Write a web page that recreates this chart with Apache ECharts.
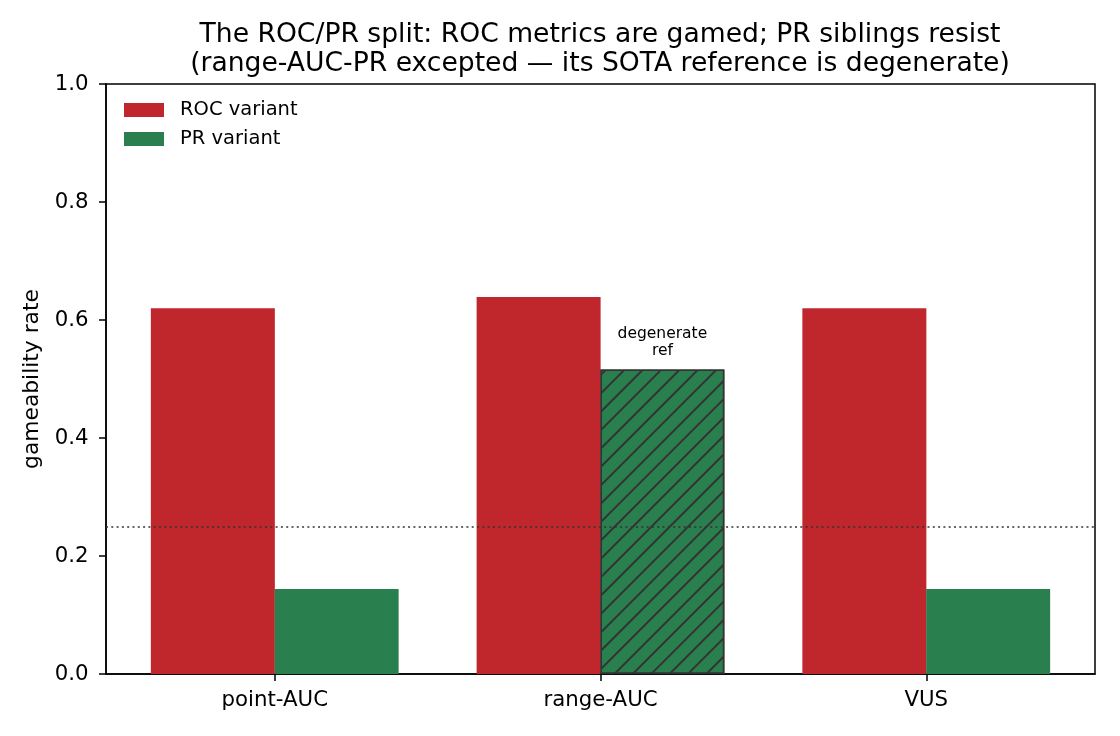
<!DOCTYPE html>
<html>
<head>
<meta charset="utf-8">
<script src="https://cdn.jsdelivr.net/npm/echarts@6/dist/echarts.min.js"></script>
<style>
  html, body { margin: 0; padding: 0; background: #fff; }
  #chart { width: 1120px; height: 736px; }
</style>
</head>
<body>
<div id="chart"></div>
<script>
var categories = ['point-AUC', 'range-AUC', 'VUS'];
var rocValues = [0.62, 0.639, 0.62];
var prValues = [0.144, 0.516, 0.144];
var chanceLevel = 0.25;
var degenerateIndex = 1;  // range-AUC-PR, hatched

var FONT = 'DejaVu Sans';
var RED = '#c0272d';
var GREEN = '#2a7f4f';
var BAR_OFFSET = 0.19;

var rocData = [];
var prData = [];
for (var i = 0; i < categories.length; i++) {
    rocData.push([i - BAR_OFFSET, rocValues[i]]);
    var item = {value: [i + BAR_OFFSET, prValues[i]]};
    if (i == degenerateIndex) {
        item.itemStyle = {
            borderColor: '#333',
            borderWidth: 1.5,
            decal: {
                symbol: 'rect',
                symbolSize: 1,
                color: '#333',
                dashArrayX: [1, 0],
                dashArrayY: [2, 11],
                rotation: -Math.PI / 4
            }
        };
        item.label = {
            show: true,
            position: 'top',
            distance: 10,
            formatter: 'degenerate\nref',
            fontFamily: FONT,
            fontSize: 15.5,
            lineHeight: 17,
            color: '#000'
        };
    }
    prData.push(item);
}

var myChart = echarts.init(document.getElementById('chart'), null, {renderer: 'canvas'});

myChart.setOption({
    animation: false,
    textStyle: {fontFamily: FONT},
    title: {
        text: 'The ROC/PR split: ROC metrics are gamed; PR siblings resist\n' +
            '(range-AUC-PR excepted \u2014 its SOTA reference is degenerate)',
        left: 600,
        top: 20,
        padding: 0,
        textAlign: 'center',
        textStyle: {
            fontFamily: FONT,
            fontSize: 26.6,
            fontWeight: 'normal',
            lineHeight: 29.5,
            color: '#000'
        }
    },
    legend: {
        orient: 'vertical',
        left: 124,
        top: 100,
        padding: 0,
        itemWidth: 40,
        itemHeight: 14,
        itemGap: 9,
        icon: 'rect',
        data: ['ROC variant', 'PR variant'],
        textStyle: {
            fontFamily: FONT,
            fontSize: 19.5,
            color: '#000',
            padding: [0, 0, 0, 11]
        }
    },
    grid: {
        left: 106,
        right: 25,
        top: 84,
        bottom: 62,
        show: true,
        borderColor: '#000',
        borderWidth: 1.5,
        containLabel: false
    },
    xAxis: {
        type: 'value',
        min: -0.518,
        max: 2.518,
        axisLine: {show: true, onZero: false, lineStyle: {color: '#000', width: 1.5}},
        axisTick: {
            show: true,
            customValues: [0, 1, 2],
            length: 7,
            lineStyle: {color: '#000', width: 1.5}
        },
        axisLabel: {
            customValues: [0, 1, 2],
            margin: 16,
            fontFamily: FONT,
            fontSize: 21.3,
            color: '#000',
            formatter: function(v) {
                return categories[Math.round(v)];
            }
        },
        splitLine: {show: false}
    },
    yAxis: {
        type: 'value',
        min: 0,
        max: 1,
        interval: 0.2,
        name: 'gameability rate',
        nameLocation: 'middle',
        nameGap: 51,
        nameTextStyle: {fontFamily: FONT, fontSize: 21.8, color: '#000'},
        axisLine: {show: true, onZero: false, lineStyle: {color: '#000', width: 1.5}},
        axisTick: {show: true, length: 7, lineStyle: {color: '#000', width: 1.5}},
        axisLabel: {
            margin: 17.5,
            fontFamily: FONT,
            fontSize: 21.3,
            color: '#000',
            formatter: function(v) {
                return v.toFixed(1);
            }
        },
        splitLine: {show: false}
    },
    series: [
        {
            name: 'ROC variant',
            type: 'bar',
            barWidth: 124,
            barGap: '-100%',
            itemStyle: {color: RED},
            data: rocData,
            markLine: {
                silent: true,
                symbol: 'none',
                label: {show: false},
                lineStyle: {color: '#333', width: 1.6, type: [2, 3.3]},
                data: [{yAxis: chanceLevel}]
            },
            z: 2
        },
        {
            name: 'PR variant',
            type: 'bar',
            barWidth: 124,
            barGap: '-100%',
            itemStyle: {color: GREEN},
            data: prData,
            z: 2
        }
    ]
});
</script>
</body>
</html>
